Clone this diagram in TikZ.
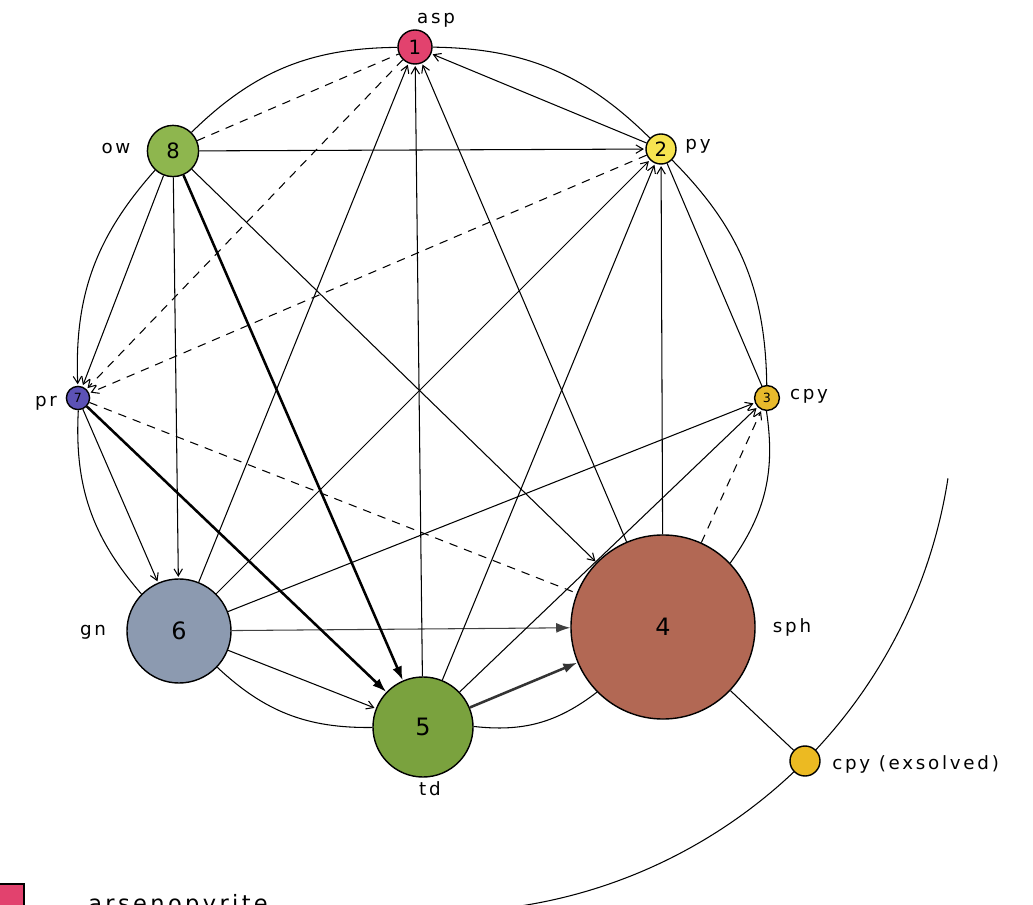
\documentclass[tikz,border=0pt]{standalone}
\usepackage{fontspec}
\usetikzlibrary{arrows.meta}
\newfontfamily\hand{DejaVu Sans}[LetterSpace=15]
\newcommand\lblfont{\hand\fontsize{13}{13}\selectfont}
\newcommand\numfont{\hand\fontsize{14}{14}\selectfont}
\definecolor{cA}{RGB}{226,66,110}
\definecolor{cB}{RGB}{247,228,80}
\definecolor{cC}{RGB}{232,186,44}
\definecolor{cD}{RGB}{178,104,84}
\definecolor{cE}{RGB}{122,162,62}
\definecolor{cF}{RGB}{140,154,176}
\definecolor{cG}{RGB}{92,82,182}
\definecolor{cH}{RGB}{142,182,78}
\definecolor{cX}{RGB}{236,186,34}
\begin{document}
\begin{tikzpicture}[x=0.025cm,y=-0.025cm,
  mn/.style={circle,draw=black,line width=1pt,inner sep=0pt,font=\numfont},
  lbl/.style={font=\lblfont,inner sep=0pt},
  ln/.style={line width=0.75pt,black},
  ar/.style={ln,-{Straight Barb[length=5pt,width=6pt,line width=0.75pt]},shorten >=1pt},
  tk/.style={line width=1.8pt,-{Latex[length=10pt,width=7pt]}},
  bg/.style={ln,-{Latex[length=10pt,width=7pt]},draw=black!75},
  dl/.style={ln,dash pattern=on 6pt off 5pt},
  dla/.style={dl,-{Straight Barb[length=5pt,width=6pt,line width=0.75pt]},shorten >=1pt},
  rim/.style={ln,bend left=22},
]
\clip (0,0) rectangle (1033,905);
\fill[white] (0,0) rectangle (1033,905);
% outer exsolution arc
\coordinate (cc) at (442,400);
\draw[ln] (cc) ++(8.8:512) arc[start angle=8.8, end angle=88, radius=512];
% nodes
\node[mn,fill=cA,minimum size=0.85cm] (n1) at (415,47) {1};
\node[mn,fill=cB,minimum size=0.75cm] (n2) at (661,149) {2};
\node[mn,fill=cC,minimum size=0.62cm,font=\hand\fontsize{9}{9}\selectfont] (n3) at (767,398) {3};
\node[mn,fill=cD,minimum size=4.6cm,font=\hand\fontsize{17}{17}\selectfont] (n4) at (663,627) {4};
\node[mn,fill=cE,minimum size=2.5cm,font=\hand\fontsize{17}{17}\selectfont] (n5) at (423,727) {5};
\node[mn,fill=cF,minimum size=2.6cm,font=\hand\fontsize{17}{17}\selectfont] (n6) at (179,631) {6};
\node[mn,fill=cG,minimum size=0.58cm,font=\hand\fontsize{9}{9}\selectfont] (n7) at (78,398) {7};
\node[mn,fill=cH,minimum size=1.28cm,font=\hand\fontsize{15}{15}\selectfont] (n8) at (173,151) {8};
\node[mn,fill=cX,minimum size=0.75cm] (nx) at (805,761) {};
% labels
\node[lbl] (l1) at (436,20) {asp};
\node[lbl] (l2) at (698,146) {py};
\node[lbl] (l3) at (809,396) {cpy};
\node[lbl] (l4) at (792,627) {sph};
\node[lbl] (l5) at (430,789) {td};
\node[lbl] (l6) at (93,632) {gn};
\node[lbl] (l7) at (46,403) {pr};
\node[lbl] (l8) at (116,149) {ow};
\node[lbl,anchor=west] (lx) at (832,764) {cpy (exsolved)};
% legend (cut off by the page edge, as in the original)
\node[draw=black,line width=1pt,fill=cA,minimum size=0.8cm,inner sep=0pt] (sq) at (8,900) {};
\node[font=\hand\fontsize{16}{16}\selectfont,anchor=base west,inner sep=0pt] (lg) at (88,911) {arsenopyrite};
% rim arcs
\draw[rim] (n1) to (n2);
\draw[rim] (n2) to (n3);
\draw[rim] (n3) to (n4);
\draw[rim] (n4) to (n5);
\draw[rim] (n5) to (n6);
\draw[rim] (n6) to (n7);
\draw[rim] (n8) to (n1);
\draw[ar,bend right=22] (n8) to (n7);
% dashed
\draw[dl] (n8) -- (n1);
\draw[dla] (n1) -- (n7);
\draw[dla] (n2) -- (n7);
\draw[dl] (n7) -- (n4);
\draw[dla] (n4) -- (n3);
% thin straight
\draw[ar] (n2) -- (n1);
\draw[ar] (n8) -- (n2);
\draw[ar] (n8) -- (n7);
\draw[ar] (n8) -- (n6);
\draw[ar] (n8) -- (n4);
\draw[ar] (n7) -- (n6);
\draw[ar] (n6) -- (n1);
\draw[ar] (n6) -- (n2);
\draw[ar] (n6) -- (n3);
\draw[bg] (n6) -- (n4);
\draw[ar] (n6) -- (n5);
\draw[ar] (n5) -- (n1);
\draw[ar] (n5) -- (n2);
\draw[ar] (n5) -- (n3);
\draw[ar] (n4) -- (n1);
\draw[ar] (n4) -- (n2);
\draw[ln] (n3) -- (n2);
\draw[ln] (n4) -- (nx);
% thick
\draw[tk] (n8) -- (n5);
\draw[tk] (n7) -- (n5);
\draw[tk,draw=black!80] (n5) -- (n4);
\end{tikzpicture}
\end{document}
